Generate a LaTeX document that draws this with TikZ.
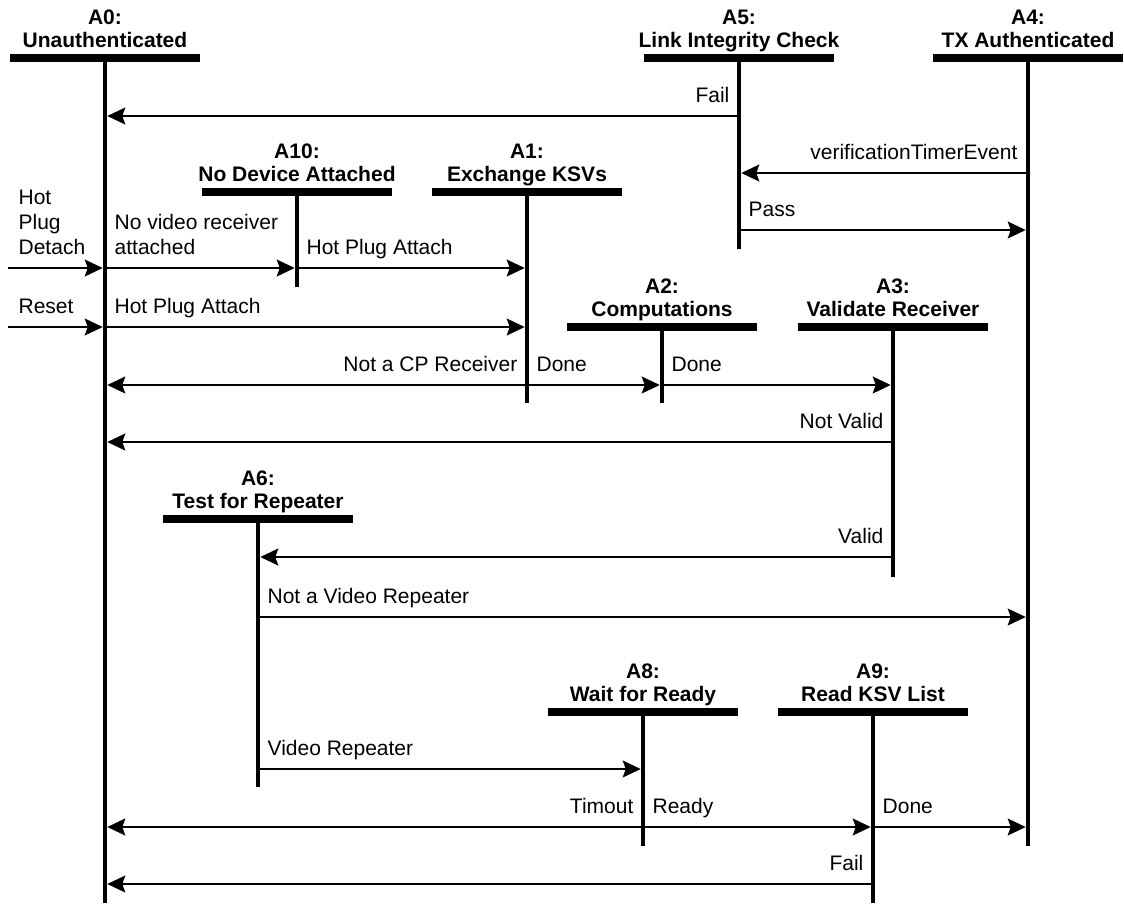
\documentclass[tikz,border=0pt]{standalone}
\usepackage{fontspec}
\setmainfont{Liberation Sans}
\usetikzlibrary{arrows.meta}

% One state: bar with a two-line heading, and its vertical lifeline.
% #1 name, #2 x, #3 y of the bar, #4 y where the lifeline ends, #5 id, #6 title
\newcommand\mystate[6]{%
  \coordinate (#1) at (#2,#3);
  \coordinate (#1-end) at (#2,#4);
  \draw[life] (#1) -- (#1-end);
  \draw[bar] ([xshift=-95pt]#1) -- ([xshift=95pt]#1);
  \node[head] (#1-title) at ([yshift=11pt]#1)
    {\begin{tabular}[b]{@{}c@{}}#5\\#6\end{tabular}};
}

\begin{document}
\begin{tikzpicture}[x=1pt,y=-1pt,
  life/.style={line width=4.6pt},
  bar/.style={line width=8pt},
  msg/.style={line width=1.3pt,
    -{Stealth[length=18pt,width=17pt,inset=3pt]},shorten >=2.3pt},
  head/.style={inner sep=0pt,anchor=base,
    font=\fontsize{21}{23}\selectfont\bfseries},
  lbl/.style={inner sep=0pt,font=\fontsize{21}{25}\selectfont},
  lblL/.style={lbl,anchor=base east,xshift=-9pt,yshift=14pt},
  lblR/.style={lbl,anchor=base west,xshift=9pt,yshift=14pt},
]
\useasboundingbox (0,0) rectangle (1124,903);

% states
\mystate{A0}{105}{58}{903}{A0:}{Unauthenticated}
\mystate{A5}{739}{58}{249}{A5:}{Link Integrity Check}
\mystate{A4}{1028}{58}{846}{A4:}{TX Authenticated}
\mystate{A10}{297}{192}{287}{A10:}{No Device Attached}
\mystate{A1}{527}{192}{403}{A1:}{Exchange KSVs}
\mystate{A2}{662}{327}{403}{A2:}{Computations}
\mystate{A3}{893}{327}{577}{A3:}{Validate Receiver}
\mystate{A6}{258}{519}{787}{A6:}{Test for Repeater}
\mystate{A8}{643}{712}{846}{A8:}{Wait for Ready}
\mystate{A9}{873}{712}{903}{A9:}{Read KSV List}

% heights of the transitions
\coordinate (l1) at (0,116);
\coordinate (l2) at (0,173);
\coordinate (l3) at (0,230);
\coordinate (l4) at (0,268);
\coordinate (l5) at (0,327);
\coordinate (l6) at (0,385);
\coordinate (l7) at (0,442);
\coordinate (l8) at (0,557);
\coordinate (l9) at (0,617);
\coordinate (l10) at (0,769);
\coordinate (l11) at (0,827);
\coordinate (l12) at (0,884);

% outside events entering A0
\coordinate (hpd) at (8,268);
\coordinate (rst) at (8,327);

% transitions
\draw[msg] (A5 |- l1) -- (A0 |- l1) node[pos=0,lblL] (t-fail1) {Fail};
\draw[msg] (A4 |- l2) -- (A5 |- l2)
  node[pos=0,lblL,xshift=-1pt] (t-vte) {verificationTimerEvent};
\draw[msg] (A5 |- l3) -- (A4 |- l3) node[pos=0,lblR] (t-pass) {Pass};

\draw[msg] (hpd) -- (A0 |- l4)
  node[pos=0,lbl,anchor=base west,xshift=10pt,yshift=14pt] (t-hpd)
  {\begin{tabular}[b]{@{}l@{}}Hot\\Plug\\Detach\end{tabular}};
\draw[msg] (A0 |- l4) -- (A10 |- l4)
  node[pos=0,lblR] (t-novid)
  {\begin{tabular}[b]{@{}l@{}}No video receiver\\attached\end{tabular}};
\draw[msg] (A10 |- l4) -- (A1 |- l4) node[pos=0,lblR] (t-hpa1) {Hot Plug Attach};

\draw[msg] (rst) -- (A0 |- l5)
  node[pos=0,lbl,anchor=base west,xshift=10pt,yshift=14pt] (t-rst) {Reset};
\draw[msg] (A0 |- l5) -- (A1 |- l5) node[pos=0,lblR] (t-hpa2) {Hot Plug Attach};

\draw[msg] (A1 |- l6) -- (A0 |- l6) node[pos=0,lblL] (t-notcp) {Not a CP Receiver};
\draw[msg] (A1 |- l6) -- (A2 |- l6) node[pos=0,lblR] (t-done1) {Done};
\draw[msg] (A2 |- l6) -- (A3 |- l6) node[pos=0,lblR] (t-done2) {Done};

\draw[msg] (A3 |- l7) -- (A0 |- l7) node[pos=0,lblL] (t-notvalid) {Not Valid};
\draw[msg] (A3 |- l8) -- (A6 |- l8) node[pos=0,lblL] (t-valid) {Valid};
\draw[msg] (A6 |- l9) -- (A4 |- l9) node[pos=0,lblR] (t-notrep) {Not a Video Repeater};
\draw[msg] (A6 |- l10) -- (A8 |- l10) node[pos=0,lblR] (t-rep) {Video Repeater};

\draw[msg] (A8 |- l11) -- (A0 |- l11) node[pos=0,lblL] (t-timeout) {Timout};
\draw[msg] (A8 |- l11) -- (A9 |- l11) node[pos=0,lblR] (t-ready) {Ready};
\draw[msg] (A9 |- l11) -- (A4 |- l11) node[pos=0,lblR] (t-done3) {Done};

\draw[msg] (A9 |- l12) -- (A0 |- l12) node[pos=0,lblL] (t-fail2) {Fail};
\end{tikzpicture}
\end{document}
